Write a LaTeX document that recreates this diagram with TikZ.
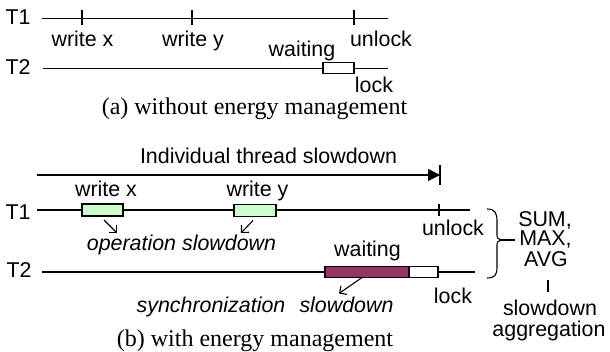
\documentclass[tikz,border=0pt]{standalone}
\usepackage{fontspec}
\setmainfont{Liberation Serif}
\setsansfont{Liberation Sans}
\usetikzlibrary{arrows.meta}
\definecolor{lgreen}{HTML}{CCFFCC}
\definecolor{plum}{HTML}{993366}
\begin{document}
\begin{tikzpicture}[x=0.5pt,y=-0.5pt,
  lbl/.style={font=\sffamily\fontsize{10.7}{12}\selectfont, inner sep=0pt, anchor=base},
  ilbl/.style={lbl, font=\sffamily\itshape\fontsize{10.7}{12}\selectfont},
  captxt/.style={font=\rmfamily\fontsize{12}{14}\selectfont, inner sep=0pt, anchor=base},
  tline/.style={line width=0.65pt},
  tickmark/.style={line width=1.2pt},
  evbox/.style={draw, line width=0.65pt, inner sep=0pt},
  smallarr/.style={line width=0.55pt, -{Straight Barb[angle=90:3.2pt 1, line width=0.55pt]}}
]
\useasboundingbox (0,0) rectangle (610,352);

% ---------- (a) ----------
\node[lbl] (aT1) at (18,25) {T1};
\node[lbl] (aT2) at (18,75) {T2};
\coordinate (a1s) at (42,18.5);
\coordinate (a1e) at (388,18.5);
\coordinate (a2s) at (43,68.5);
\coordinate (a2e) at (388,68.5);
\draw[tline] (a1s) -- (a1e);
\draw[tline] (a2s) -- (a2e);
\coordinate (ak1t) at (82,10); \coordinate (ak1b) at (82,25);
\coordinate (ak2t) at (192,10); \coordinate (ak2b) at (192,25);
\coordinate (ak3t) at (354,10); \coordinate (ak3b) at (354,25);
\draw[tickmark] (ak1t) -- (ak1b);
\draw[tickmark] (ak2t) -- (ak2b);
\draw[tickmark] (ak3t) -- (ak3b);
\node[evbox, fill=white, minimum width=15.5pt, minimum height=5.5pt] (await) at (338.5,68) {};
\node[lbl] (awx) at (82.5,46.5) {write x};
\node[lbl] (awy) at (193,46.5) {write y};
\node[lbl] (aunl) at (381,46.5) {unlock};
\node[lbl] (awt) at (302,56.5) {waiting};
\node[lbl] (alock) at (374,93) {lock};
\node[captxt] (acap) at (254.5,115) {(a) without energy management};

% ---------- (b) ----------
\node[lbl] (ind) at (268.5,164) {Individual thread slowdown};
\coordinate (ars) at (37,175);
\coordinate (are) at (440,175);
\draw[tline, -{Triangle[length=6pt,width=6pt]}] (ars) -- (are);
\coordinate (barT) at (440,165); \coordinate (barB) at (440,185);
\draw[line width=0.6pt] (barT) -- (barB);

\node[lbl] (bT1) at (18,220) {T1};
\node[lbl] (bT2) at (19,278) {T2};
\coordinate (b1s) at (37,210);
\coordinate (b1e) at (470,210);
\coordinate (b2s) at (42,272);
\coordinate (b2e) at (475,272);
\draw[tline] (b1s) -- (b1e);
\draw[tline] (b2s) -- (b2e);
\coordinate (bkt) at (439,204); \coordinate (bkb) at (439,216);
\draw[tickmark] (bkt) -- (bkb);

\node[evbox, fill=lgreen, minimum width=20.5pt, minimum height=6pt] (gx) at (102.5,210) {};
\node[evbox, fill=lgreen, minimum width=21pt, minimum height=6pt] (gy) at (255,210.5) {};
\node[evbox, fill=plum, minimum width=42pt, minimum height=5.3pt] (pw) at (367,272) {};
\node[evbox, fill=white, minimum width=14.5pt, minimum height=5.3pt] (ww) at (423.5,272) {};

\node[lbl] (bwx) at (106,196.5) {write x};
\node[lbl] (bwy) at (257.5,197) {write y};
\node[lbl] (bunl) at (453,235) {unlock};
\node[ilbl] (opsl) at (181.5,250) {operation slowdown};
\node[lbl] (bwt) at (367.5,256.5) {waiting};
\node[ilbl] (sync) at (211,312) {synchronization};
\node[ilbl] (ssl) at (346.5,312) {slowdown};
\node[lbl] (block) at (453,303) {lock};
\node[captxt] (bcap) at (255,346) {(b) with energy management};

\coordinate (s1a) at (104,220); \coordinate (s1b) at (117,233);
\coordinate (s2a) at (253,220.5); \coordinate (s2b) at (241,233);
\coordinate (s3a) at (362,277.5); \coordinate (s3b) at (339,293.5);
\draw[smallarr] (s1a) -- (s1b);
\draw[smallarr] (s2a) -- (s2b);
\draw[smallarr] (s3a) -- (s3b);

% brace and aggregation
\coordinate (brT) at (487,209);
\coordinate (brB) at (487,278);
\coordinate (brTip) at (501,240);
\draw[line width=0.55pt] (brT) .. controls (495,209) and (497,213) .. (497,221)
  -- (497,234) .. controls (497,238) .. (brTip)
  .. controls (497,242) .. (497,246) -- (497,267)
  .. controls (497,275) and (495,278) .. (brB);
\coordinate (brL) at (515,240);
\draw[line width=0.55pt] (brTip) -- (brL);
\node[lbl] (sum) at (545,226.5) {SUM,};
\node[lbl] (max) at (545.5,246) {MAX,};
\node[lbl] (avg) at (546,266) {AVG};
\coordinate (vlT) at (548,280); \coordinate (vlB) at (548,292);
\draw[line width=0.55pt] (vlT) -- (vlB);
\node[lbl] (sdn) at (550,315) {slowdown};
\node[lbl] (agg) at (549,336.5) {aggregation};
\end{tikzpicture}
\end{document}
